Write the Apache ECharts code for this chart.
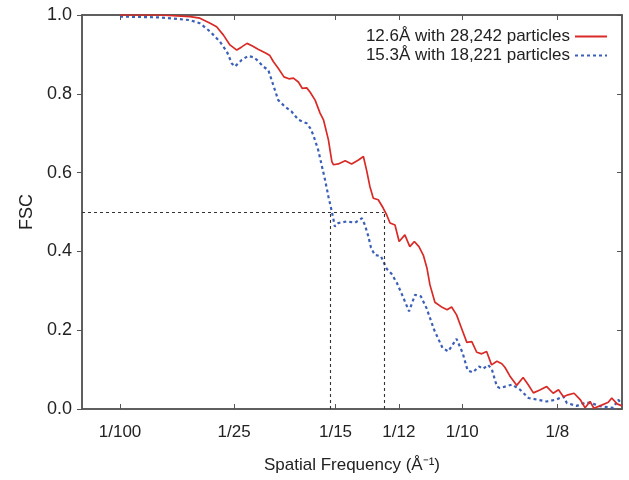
<!DOCTYPE html>
<html>
<head>
<meta charset="utf-8">
<script src="https://cdn.jsdelivr.net/npm/echarts@6/dist/echarts.min.js"></script>
<style>html,body{margin:0;padding:0;background:#fff;}#c{width:629px;height:480px;}</style>
</head>
<body>
<div id="c"></div>
<script>
// Spatial frequency (1/Å) and FSC values
const redX = [0.0100,0.0205,0.0284,0.0310,0.0337,0.0354,0.0372,0.0389,0.0407,0.0420,0.0434,0.0447,0.0463,0.0484,0.0494,0.0503,0.0516,0.0531,0.0544,0.0556,0.0569,0.0579,0.0591,0.0600,0.0613,0.0626,0.0635,0.0648,0.0657,0.0661,0.0674,0.0692,0.0709,0.0727,0.0740,0.0749,0.0757,0.0766,0.0779,0.0792,0.0801,0.0810,0.0823,0.0834,0.0849,0.0862,0.0874,0.0886,0.0898,0.0907,0.0915,0.0928,0.0947,0.0960,0.0972,0.0985,0.0998,0.1012,0.1025,0.1038,0.1051,0.1064,0.1077,0.1091,0.1104,0.1112,0.1125,0.1143,0.1160,0.1173,0.1187,0.1204,0.1222,0.1239,0.1253,0.1266,0.1278,0.1294,0.1310,0.1323,0.1336,0.1346,0.1362,0.1384,0.1393,0.1407,0.1420];
const redY = [1.000,1.000,0.996,0.992,0.979,0.970,0.949,0.924,0.911,0.919,0.928,0.922,0.913,0.903,0.897,0.882,0.865,0.843,0.838,0.840,0.830,0.814,0.815,0.804,0.784,0.751,0.734,0.683,0.628,0.620,0.622,0.630,0.622,0.632,0.641,0.603,0.565,0.535,0.531,0.510,0.493,0.472,0.467,0.425,0.442,0.412,0.425,0.412,0.389,0.358,0.315,0.271,0.258,0.252,0.259,0.239,0.205,0.169,0.171,0.144,0.140,0.146,0.112,0.121,0.115,0.106,0.084,0.060,0.080,0.062,0.041,0.048,0.057,0.040,0.049,0.031,0.036,0.040,0.024,0.003,0.019,0.002,0.008,0.017,0.028,0.013,0.008];
const blueX = [0.0100,0.0205,0.0284,0.0310,0.0337,0.0363,0.0381,0.0394,0.0402,0.0420,0.0437,0.0450,0.0460,0.0477,0.0490,0.0503,0.0516,0.0534,0.0551,0.0569,0.0591,0.0600,0.0608,0.0621,0.0630,0.0639,0.0648,0.0657,0.0665,0.0674,0.0696,0.0718,0.0736,0.0744,0.0753,0.0760,0.0770,0.0786,0.0801,0.0814,0.0828,0.0843,0.0860,0.0876,0.0891,0.0906,0.0926,0.0948,0.0963,0.0985,0.1001,0.1014,0.1028,0.1044,0.1055,0.1068,0.1078,0.1091,0.1099,0.1131,0.1152,0.1174,0.1196,0.1222,0.1248,0.1266,0.1275,0.1301,0.1327,0.1345,0.1362,0.1397,0.1410,0.1420];
const blueY = [0.996,0.994,0.987,0.979,0.958,0.932,0.907,0.877,0.869,0.886,0.896,0.893,0.886,0.869,0.860,0.822,0.784,0.767,0.755,0.734,0.725,0.713,0.696,0.658,0.620,0.582,0.539,0.501,0.463,0.472,0.476,0.473,0.484,0.467,0.438,0.409,0.391,0.388,0.356,0.343,0.320,0.287,0.248,0.290,0.286,0.256,0.201,0.155,0.146,0.178,0.142,0.098,0.093,0.108,0.102,0.112,0.100,0.057,0.053,0.062,0.049,0.028,0.024,0.019,0.024,0.032,0.015,0.008,0.017,0.013,0.007,0.003,0.024,0.011];
const tickValues = [1/100, 1/25, 1/15, 1/12, 1/10, 1/8];
const tickLabels = ['1/100', '1/25', '1/15', '1/12', '1/10', '1/8'];
const seriesNames = ['12.6Å with 28,242 particles', '15.3Å with 18,221 particles'];
const resolutions = [12.6, 15.3];
const threshold = 0.5;

const pair = (xs, ys) => xs.map((x, i) => [x, ys[i]]);
const labelFor = v => {
  for (let i = 0; i < tickValues.length; i++) if (Math.abs(tickValues[i] - v) < 1e-9) return tickLabels[i];
  return '';
};
const FONT = 'Liberation Sans, Arial, sans-serif';
const AXC = '#555';
const dashStyle = { color: '#333', type: [3, 3], width: 1.1 };

const chart = echarts.init(document.getElementById('c'), null, { renderer: 'canvas' });
chart.setOption({
  animation: false,
  backgroundColor: '#fff',
  grid: { left: 82, right: 7, top: 15, bottom: 71, show: true, borderColor: AXC, borderWidth: 1.5, backgroundColor: 'transparent' },
  legend: {
    orient: 'vertical', right: 16, top: 23, align: 'right',
    itemWidth: 32, itemHeight: 10, itemGap: 2,
    itemStyle: { opacity: 0 },
    textStyle: { fontFamily: FONT, fontSize: 17, color: '#222' },
    data: seriesNames
  },
  xAxis: [{
    type: 'value', min: 0, max: 0.142,
    name: 'Spatial Frequency (Å⁻¹)', nameLocation: 'middle', nameGap: 48,
    nameTextStyle: { fontFamily: FONT, fontSize: 17, color: '#222' },
    axisLine: { show: true, lineStyle: { color: AXC, width: 1.5 } },
    axisTick: { show: true, inside: true, length: 5, customValues: tickValues, lineStyle: { color: AXC } },
    axisLabel: { customValues: tickValues, formatter: v => labelFor(v), margin: 15,
      fontFamily: FONT, fontSize: 17, color: '#222' },
    splitLine: { show: false }
  }, {
    type: 'value', min: 0, max: 0.142, position: 'top', show: true,
    axisLine: { show: true, onZero: false, lineStyle: { color: AXC, width: 1.5 } },
    axisTick: { show: true, inside: true, length: 5, customValues: tickValues, lineStyle: { color: AXC } },
    axisLabel: { show: false }, splitLine: { show: false }
  }],
  yAxis: [{
    type: 'value', min: 0, max: 1, interval: 0.2,
    name: 'FSC', nameLocation: 'middle', nameGap: 43, nameRotate: 90,
    nameTextStyle: { fontFamily: FONT, fontSize: 18, color: '#222' },
    axisLine: { show: true, lineStyle: { color: AXC, width: 1.5 } },
    axisTick: { show: true, inside: false, length: 5, lineStyle: { color: AXC } },
    axisLabel: { formatter: v => v.toFixed(1), margin: 10, fontFamily: FONT, fontSize: 18, color: '#222' },
    splitLine: { show: false }
  }, {
    type: 'value', min: 0, max: 1, interval: 0.2, position: 'right', show: true,
    axisLine: { show: true, onZero: false, lineStyle: { color: AXC, width: 1.5 } },
    axisTick: { show: true, inside: true, length: 5, lineStyle: { color: AXC } },
    axisLabel: { show: false }, splitLine: { show: false }
  }],
  series: [{
    name: seriesNames[0], type: 'line', data: pair(redX, redY), symbol: 'none',
    lineStyle: { color: '#d82a26', width: 1.7 }, itemStyle: { color: '#d82a26' },
    z: 3,
    markLine: {
      silent: true, symbol: 'none', label: { show: false }, lineStyle: dashStyle,
      data: [
        [{ coord: [0, threshold] }, { coord: [1 / resolutions[0], threshold] }],
        [{ coord: [1 / resolutions[0], 0] }, { coord: [1 / resolutions[0], threshold] }],
        [{ coord: [1 / resolutions[1], 0] }, { coord: [1 / resolutions[1], threshold] }]
      ]
    }
  }, {
    name: seriesNames[1], type: 'line', data: pair(blueX, blueY), symbol: 'none',
    lineStyle: { color: '#3c5fb8', width: 2.2, type: [3, 3] }, itemStyle: { color: '#3c5fb8' },
    z: 2
  }, {
    name: 'frame', type: 'line', xAxisIndex: 1, yAxisIndex: 1, data: [[0.0100, 1.000]], symbol: 'none', silent: true,
    lineStyle: { opacity: 0 }
  }]
});
</script>
</body>
</html>
